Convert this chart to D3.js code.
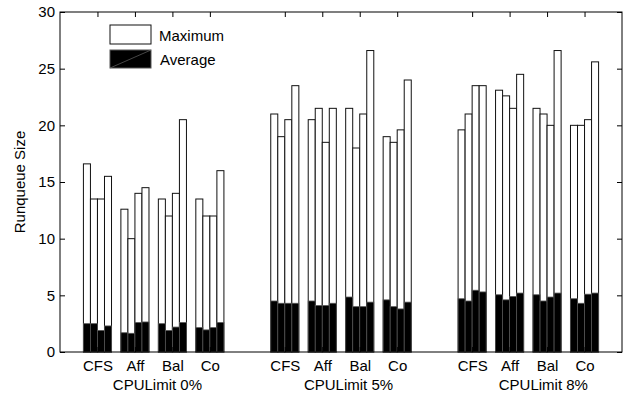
<!DOCTYPE html>
<html>
<head>
<meta charset="utf-8">
<script src="https://cdn.jsdelivr.net/npm/d3@7"></script>
<style>
  body { margin: 0; background: #fff; }
  text { font-family: Arial, "Liberation Sans", sans-serif; fill: #000; }
</style>
</head>
<body>
<div id="chart"></div>
<script>
'use strict';

// chart values
var groups = ['CPULimit 0%', 'CPULimit 5%', 'CPULimit 8%'];
var schedulers = ['CFS', 'Aff', 'Bal', 'Co'];
var yTicks = [0, 5, 10, 15, 20, 25, 30];

// max runqueue size, one row per scheduler in group order (4 runs each)
var maxValues = [
    [16.6, 13.5, 13.5, 15.5], [12.6, 10.0, 14.0, 14.5], [13.5, 12.0, 14.0, 20.5], [13.5, 12.0, 12.0, 16.0],
    [21.0, 19.0, 20.5, 23.5], [20.5, 21.5, 18.5, 21.5], [21.5, 18.0, 21.0, 26.6], [19.0, 18.5, 19.6, 24.0],
    [19.6, 21.0, 23.5, 23.5], [23.1, 22.6, 21.5, 24.5], [21.5, 21.0, 20.0, 26.6], [20.0, 20.0, 20.5, 25.6]
];
// average runqueue size
var avgValues = [
    [2.5, 2.5, 1.9, 2.3], [1.7, 1.65, 2.6, 2.65], [2.5, 1.9, 2.2, 2.6], [2.15, 1.95, 2.15, 2.6],
    [4.5, 4.3, 4.3, 4.3], [4.5, 4.1, 4.1, 4.3], [4.85, 4.0, 4.0, 4.4], [4.6, 4.0, 3.8, 4.4],
    [4.7, 4.5, 5.45, 5.3], [5.05, 4.6, 4.9, 5.2], [5.05, 4.5, 4.85, 5.2], [4.7, 4.3, 5.1, 5.2]
];
// where each group caption sits on the x axis
var groupLabelX = [2.6, 7.7, 12.9];

var width = 624, height = 394;
var margin = {left: 60, right: 2, top: 12, bottom: 42};

var svg = d3.select('#chart').append('svg')
    .attr('width', width)
    .attr('height', height);

var x = d3.scaleLinear().domain([0, 15]).range([margin.left, width - margin.right]);
var y = d3.scaleLinear().domain([0, 30]).range([height - margin.bottom, margin.top]);

// subgroup centre: 4 schedulers per group, one empty slot between groups
function slot(g, s) {
    return g * 5 + s + 1;
}
var barW = 0.1875;

var bars = [];
groups.forEach(function(gName, g) {
    schedulers.forEach(function(sName, s) {
        var row = g * 4 + s;
        maxValues[row].forEach(function(v, i) {
            bars.push({
                x0: slot(g, s) + (i - 2) * barW,
                max: v,
                avg: avgValues[row][i]
            });
        });
    });
});

var plot = svg.append('g').attr('id', 'bars-layer');

plot.selectAll('rect.max')
    .data(bars)
    .enter().append('rect')
    .attr('class', 'max')
    .attr('x', function(d) { return x(d.x0); })
    .attr('y', function(d) { return y(d.max); })
    .attr('width', function(d) { return x(d.x0 + barW) - x(d.x0); })
    .attr('height', function(d) { return y(0) - y(d.max); })
    .attr('fill', '#fff')
    .attr('stroke', '#111')
    .attr('stroke-width', 1);

plot.selectAll('rect.avg')
    .data(bars)
    .enter().append('rect')
    .attr('class', 'avg')
    .attr('x', function(d) { return x(d.x0); })
    .attr('y', function(d) { return y(d.avg); })
    .attr('width', function(d) { return x(d.x0 + barW) - x(d.x0); })
    .attr('height', function(d) { return y(0) - y(d.avg); })
    .attr('fill', '#000')
    .attr('stroke', '#555')
    .attr('stroke-width', 0.8);

// axes
var tickSlots = [];
groups.forEach(function(gName, g) {
    schedulers.forEach(function(sName, s) { tickSlots.push(slot(g, s)); });
});

var yLeft = d3.axisLeft(y).tickValues(yTicks).tickSize(-5).tickPadding(5);
var yRight = d3.axisRight(y).tickValues(yTicks).tickSize(-5).tickFormat('');
var xTop = d3.axisTop(x).tickValues(tickSlots).tickSize(-5).tickFormat('');
var xBottom = d3.axisBottom(x).tickValues(tickSlots).tickSize(-5)
    .tickFormat(function(d, i) { return schedulers[i % 4]; }).tickPadding(8);

function styleAxis(sel) {
    sel.select('.domain').remove();
    sel.selectAll('line').attr('stroke', '#000');
    sel.selectAll('text').attr('font-size', '15px')
        .attr('font-family', 'Arial, "Liberation Sans", sans-serif').attr('fill', '#000');
}

svg.append('g').attr('transform', 'translate(' + x(0) + ',0)').call(yLeft).call(styleAxis);
svg.append('g').attr('transform', 'translate(' + x(15) + ',0)').call(yRight).call(styleAxis);
svg.append('g').attr('transform', 'translate(0,' + y(30) + ')').call(xTop).call(styleAxis);
svg.append('g').attr('transform', 'translate(0,' + y(0) + ')').call(xBottom).call(styleAxis);

// frame
svg.append('rect')
    .attr('x', x(0)).attr('y', y(30))
    .attr('width', x(15) - x(0)).attr('height', y(0) - y(30))
    .attr('fill', 'none').attr('stroke', '#000').attr('stroke-width', 1);

// group captions
svg.selectAll('text.group')
    .data(groups)
    .enter().append('text')
    .attr('class', 'group')
    .attr('x', function(d, i) { return x(groupLabelX[i]); })
    .attr('y', 390)
    .attr('text-anchor', 'middle')
    .attr('font-size', '15px')
    .text(function(d) { return d; });

svg.append('text')
    .attr('transform', 'translate(25,' + y(15) + ') rotate(-90)')
    .attr('text-anchor', 'middle')
    .attr('font-size', '15px')
    .text('Runqueue Size');

// legend
var legend = svg.append('g').attr('id', 'legend-layer');
legend.append('rect')
    .attr('x', 110).attr('y', 25).attr('width', 41).attr('height', 19)
    .attr('fill', '#fff').attr('stroke', '#111');
legend.append('rect')
    .attr('x', 110).attr('y', 50).attr('width', 41).attr('height', 18)
    .attr('fill', '#000').attr('stroke', '#555');
legend.append('path')
    .attr('d', 'M110,68 L151,50')
    .attr('stroke', '#777').attr('stroke-width', 0.6).attr('fill', 'none');
legend.append('text').attr('x', 159).attr('y', 41).attr('font-size', '15px').text('Maximum');
legend.append('text').attr('x', 160).attr('y', 65).attr('font-size', '15px').text('Average');
</script>
</body>
</html>
